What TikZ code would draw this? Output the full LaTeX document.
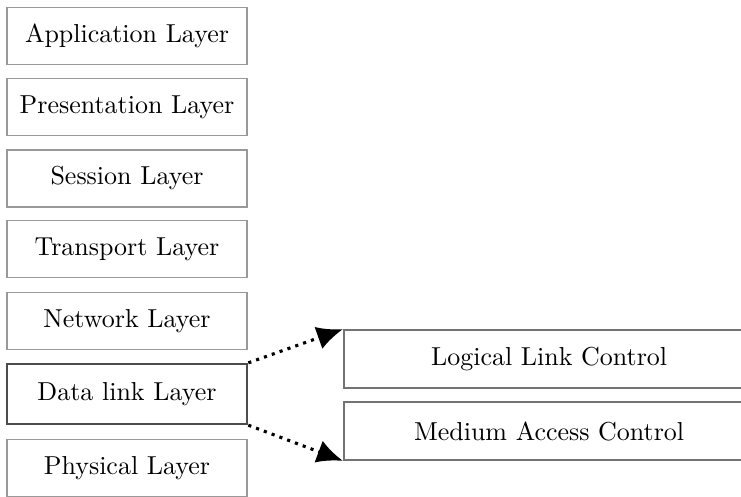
\documentclass[tikz,border=0pt]{standalone}
\usetikzlibrary{arrows.meta}
\tikzset{
	layer/.style={draw=black!40, line width=0.7pt, minimum width=92.4pt, minimum height=21.9pt, inner sep=0pt},
	sublayer/.style={draw=black!55, line width=0.7pt, minimum width=158pt, minimum height=22.3pt, inner sep=0pt},
	split/.style={dotted, line width=1.2pt, -{Latex[length=10pt,width=9pt]}}
}
\begin{document}
\begin{tikzpicture}[x=0.385pt,y=-0.385pt]
		\useasboundingbox (0,0) rectangle (741,497);
		\clip (0,0) rectangle (741,497);

		\node[layer] (app) at (127,36) {Application Layer};
		\node[layer] (pres) at (127,107) {Presentation Layer};
		\node[layer] (sess) at (127,178.5) {Session Layer};
		\node[layer] (trans) at (127,249) {Transport Layer};
		\node[layer] (net) at (127,321) {Network Layer};
		\node[layer, draw=black!70, line width=1pt, minimum height=23pt] (dl) at (127,394) {Data link Layer};
		\node[layer] (phy) at (127,468) {Physical Layer};

		\node[sublayer, anchor=west] (llc) at (343,359) {Logical Link Control};
		\node[sublayer, anchor=west] (mac) at (343,431) {Medium Access Control};

		\draw[split] (dl.north east) -- (llc.north west);
		\draw[split] (dl.south east) -- (mac.south west);
	\end{tikzpicture}
\end{document}
